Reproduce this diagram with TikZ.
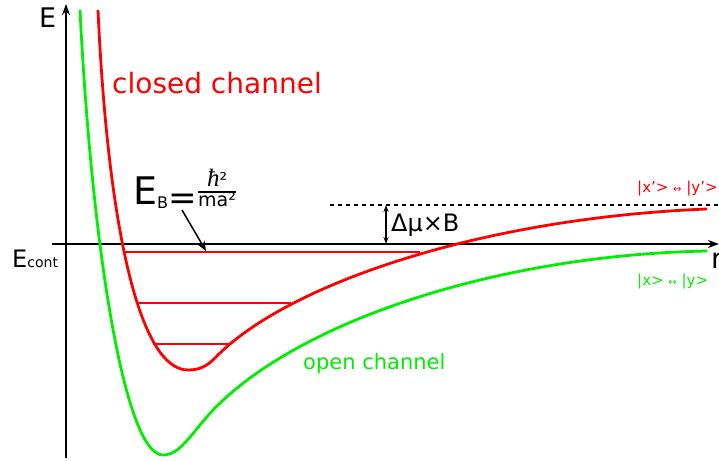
\documentclass[tikz,border=0pt]{standalone}
\usepackage{fontspec}
\setmainfont{DejaVu Sans}
\newfontfamily\lserif{Liberation Serif}
\usetikzlibrary{arrows.meta}
\definecolor{cred}{RGB}{255,0,0}
\definecolor{cgreen}{RGB}{0,238,0}
\tikzset{
  axisline/.style={line width=1.6pt,-{Stealth[length=11pt,width=8pt]}},
  curve/.style={line width=2.8pt,line join=round},
  level/.style={cred,line width=1.2pt},
  lbl/.style={inner sep=0pt,anchor=base west},
}
\begin{document}
\begin{tikzpicture}[x=1pt,y=-1pt]
\useasboundingbox (0,0) rectangle (719,460);
% axes
\coordinate (yb) at (66,458);
\coordinate (yt) at (66,4);
\coordinate (xl) at (52,244);
\coordinate (xr) at (719,244);
\draw[axisline] (yb) -- (yt);
\draw[axisline] (xl) -- (xr);
% bound levels
\coordinate (l1a) at (123,252); \coordinate (l1b) at (420,252);
\coordinate (l2a) at (137,303); \coordinate (l2b) at (291,303);
\coordinate (l3a) at (153,344); \coordinate (l3b) at (230,344);
\draw[level] (l1a) -- (l1b);
\draw[level] (l2a) -- (l2b);
\draw[level] (l3a) -- (l3b);
% green curve
\coordinate (g0) at (80,10);
\coordinate (gm) at (163,455);
\coordinate (g1) at (213,410);
\coordinate (g2) at (707,251);
\draw[curve,cgreen] (g0) .. controls (92,250) and (125,455) .. (gm)
  .. controls (180,455) and (190,435) .. (g1)
  .. controls (300,320) and (500,255) .. (g2);
% red curve
\coordinate (r0) at (98,10);
\coordinate (rm) at (188,370);
\coordinate (r1) at (215,358);
\coordinate (r2) at (707,209);
\draw[curve,cred] (r0) .. controls (108,230) and (140,370) .. (rm)
  .. controls (200,370) and (207,366) .. (r1)
  .. controls (285,285) and (480,218) .. (r2);
% dotted threshold
\coordinate (da) at (330,205); \coordinate (db) at (719,205);
\draw[line width=1.3pt,dash pattern=on 4pt off 4pt] (da) -- (db);
\coordinate (ma) at (386,205); \coordinate (mb) at (386,244);
\draw[line width=1.2pt,{Stealth[length=7pt,width=5pt]}-{Stealth[length=7pt,width=5pt]}] (ma) -- (mb);
% E_B arrow
\coordinate (ea) at (182,210); \coordinate (eb) at (206,251);
\draw[line width=1.5pt,-{Stealth[length=10pt,width=8pt]}] (ea) -- (eb);
% texts
\node[lbl] (E) at (39,28) {\fontsize{27}{27}\selectfont E};
\node[lbl] (Ec) at (12,267) {\fontsize{24}{24}\selectfont E\fontsize{14}{14}\selectfont cont};
\node[lbl] (rr) at (711,268) {\fontsize{28}{28}\selectfont r};
\node[lbl,cred] (cc) at (112,93) {\fontsize{28}{28}\selectfont closed channel};
\node[lbl,cgreen] (oc) at (303,369) {\fontsize{21}{21}\selectfont open channel};
\node[lbl] (dm) at (391,231) {\fontsize{24}{24}\selectfont Δμ×B};
\node[lbl,cred] (xp) at (637,192) {\fontsize{15}{15}\selectfont |x'> {\fontsize{10}{10}\selectfont ↔} |y'>};
\node[lbl,cgreen] (xx) at (637,285) {\fontsize{15}{15}\selectfont |x> {\fontsize{10}{10}\selectfont ↔} |y>};
\node[lbl] (EB) at (133,204) {\fontsize{38}{38}\selectfont E\raisebox{-0.12em}{\fontsize{16}{16}\selectfont B}\raisebox{-5.5pt}{\fontsize{34}{34}\selectfont =}};
\node[inner sep=0pt,anchor=west] (fr) at (198,191) {\fontsize{19}{19}\selectfont
  \begin{tabular}{@{}c@{}}{\fontsize{25}{25}\selectfont\lserif\itshape ħ}{\fontsize{19}{19}\selectfont ²}\\[-1pt]\noalign{\hrule height 1.4pt}\noalign{\vskip0pt}ma²\end{tabular}};
\end{tikzpicture}
\end{document}
